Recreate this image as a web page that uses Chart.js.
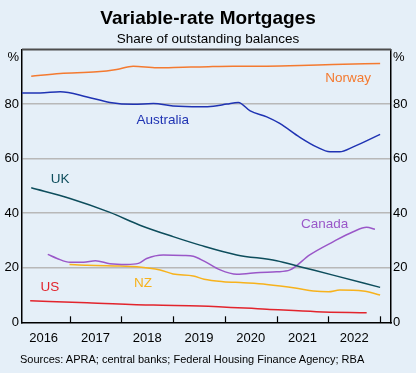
<!DOCTYPE html>
<html>
<head>
<meta charset="utf-8">
<script src="https://cdn.jsdelivr.net/npm/chart.js@4.4.1/dist/chart.umd.min.js"></script>
<style>
  html, body { margin: 0; padding: 0; background: #e5eff8; }
  #wrap { position: relative; width: 416px; height: 373px; background: #e5eff8; font-family: "Liberation Sans", Arial, sans-serif; }
  #title { position: absolute; left: 0; width: 416px; top: 7px; text-align: center; font-weight: bold; font-size: 19px; color: #000; }
  #sub { position: absolute; left: 0; width: 416px; top: 31px; text-align: center; font-size: 13.5px; color: #000; }
  #src { position: absolute; left: 20px; top: 353px; font-size: 11px; color: #000; }
  canvas { position: absolute; left: 0; top: 0; }
</style>
</head>
<body>
<div id="wrap">
  <canvas id="c" width="416" height="373"></canvas>
  <div id="title">Variable-rate Mortgages</div>
  <div id="sub">Share of outstanding balances</div>
  <div id="src">Sources: APRA; central banks; Federal Housing Finance Agency; RBA</div>
</div>
<script>
// Data (x in decimal years, y in per cent)
const norwayX = [2016.26, 2016.82, 2017.53, 2017.91, 2018.23, 2018.69, 2019.2, 2019.52, 2020.16, 2020.81, 2021.45, 2022.09, 2023.0];
const norwayY = [90.2, 91.2, 91.8, 92.7, 93.9, 93.3, 93.5, 93.6, 93.9, 93.9, 94.1, 94.5, 94.9];

const australiaX = [2016.08, 2016.43, 2016.82, 2017.34, 2017.78, 2018.23, 2018.62, 2019.0, 2019.52, 2019.78, 2020.04, 2020.26, 2020.49, 2020.81, 2021.06, 2021.45, 2021.77, 2022.03, 2022.22, 2022.48, 2023.0];
const australiaY = [84.1, 84.1, 84.5, 82.6, 80.6, 79.9, 80.2, 79.3, 79.0, 79.2, 80.0, 80.6, 77.5, 75.3, 72.9, 67.8, 64.3, 62.5, 62.5, 64.3, 68.9];

const ukX = [2016.26, 2017.01, 2017.78, 2018.36, 2019.0, 2019.52, 2020.23, 2021.0, 2021.45, 2022.09, 2023.0];
const ukY = [49.3, 45.4, 40.3, 35.6, 31.4, 28.3, 24.7, 22.6, 20.4, 17.3, 12.8];

const canadaX = [2016.58, 2016.76, 2017.01, 2017.27, 2017.5, 2017.78, 2018.1, 2018.33, 2018.49, 2018.81, 2019.2, 2019.39, 2019.6, 2019.91, 2020.23, 2020.68, 2021.0, 2021.26, 2021.64, 2022.09, 2022.48, 2022.74, 2022.9];
const canadaY = [24.9, 23.4, 22.0, 22.0, 22.6, 21.5, 21.2, 21.6, 23.4, 24.7, 24.5, 24.2, 22.4, 19.2, 17.6, 18.3, 18.5, 19.2, 24.7, 29.5, 33.2, 34.8, 34.1];

const nzX = [2017.0, 2017.34, 2017.98, 2018.3, 2018.75, 2019.0, 2019.39, 2019.6, 2019.97, 2020.36, 2020.81, 2021.39, 2021.71, 2022.0, 2022.22, 2022.67, 2023.0];
const nzY = [21.2, 20.9, 20.6, 20.4, 19.2, 17.7, 17.0, 15.8, 14.9, 14.5, 13.9, 12.5, 11.5, 11.2, 11.8, 11.5, 10.0];

const usX = [2016.24, 2017.34, 2018.62, 2019.52, 2020.81, 2021.77, 2022.74];
const usY = [7.9, 7.2, 6.3, 6.0, 4.8, 3.9, 3.5];

const yTicks = [0, 20, 40, 60, 80];
const unitTickValue = 97;
const xLabelYears = [2016, 2017, 2018, 2019, 2020, 2021, 2022];
const xBoundaryYears = [2017, 2018, 2019, 2020, 2021, 2022, 2023];

const seriesLabels = [
  { text: 'Norway', x: 2022.38, y: 89.6, color: '#f47a30' },
  { text: 'Australia', x: 2018.8, y: 74.1, color: '#1f33b3' },
  { text: 'UK', x: 2016.82, y: 52.5, color: '#0d4d5c' },
  { text: 'Canada', x: 2021.93, y: 35.9, color: '#9a57c8' },
  { text: 'NZ', x: 2018.42, y: 14.4, color: '#f7b21c' },
  { text: 'US', x: 2016.62, y: 12.8, color: '#e2242c' }
];

function pts(xs, ys) { return xs.map((x, i) => ({ x: x, y: ys[i] })); }

function ds(label, xs, ys, color) {
  return { label: label, data: pts(xs, ys), borderColor: color, borderWidth: 1.5,
           pointRadius: 0, tension: 0.35, cubicInterpolationMode: 'monotone', fill: false };
}

const FONT = '"Liberation Sans", Arial, sans-serif';

const decor = {
  id: 'decor',
  afterDatasetsDraw(chart) {
    const ctx = chart.ctx, a = chart.chartArea, xs = chart.scales.x, ys = chart.scales.y;
    ctx.save();
    ctx.strokeStyle = '#4d4d4d'; ctx.lineWidth = 2;
    ctx.beginPath(); ctx.moveTo(a.left, a.top); ctx.lineTo(a.right, a.top); ctx.stroke();
    ctx.strokeStyle = '#000'; ctx.lineWidth = 1.2;
    xBoundaryYears.forEach(y => {
      const px = Math.round(xs.getPixelForValue(y)) + 0.5;
      ctx.beginPath(); ctx.moveTo(px, a.bottom); ctx.lineTo(px, a.bottom - 6); ctx.stroke();
    });
    ctx.font = '13.5px ' + FONT; ctx.textAlign = 'center'; ctx.textBaseline = 'middle';
    seriesLabels.forEach(l => {
      ctx.fillStyle = l.color;
      ctx.fillText(l.text, xs.getPixelForValue(l.x), ys.getPixelForValue(l.y));
    });
    ctx.restore();
  }
};

function yAxis(pos, w, pad) {
  return {
    type: 'linear', position: pos, min: 0, max: 100,
    afterBuildTicks(s) { s.ticks = yTicks.concat([unitTickValue]).map(v => ({ value: v })); },
    afterFit(s) { s.width = w; },
    grid: {
      drawOnChartArea: pos === 'left', drawTicks: false,
      color: c => (c.tick && (c.tick.value === 0 || c.tick.value === unitTickValue)) ? 'rgba(0,0,0,0)' : '#b8b8b8',
      lineWidth: 1.5
    },
    border: { display: true, color: '#000', width: 1.5 },
    ticks: {
      padding: pad, color: '#000', font: { family: FONT, size: 13 },
      callback: v => v === unitTickValue ? '%' : String(v)
    }
  };
}

new Chart(document.getElementById('c'), {
  type: 'line',
  data: {
    datasets: [
      ds('Norway', norwayX, norwayY, '#f47a30'),
      ds('Australia', australiaX, australiaY, '#1f33b3'),
      ds('UK', ukX, ukY, '#0d4d5c'),
      ds('Canada', canadaX, canadaY, '#9a57c8'),
      ds('NZ', nzX, nzY, '#f7b21c'),
      ds('US', usX, usY, '#e2242c')
    ]
  },
  options: {
    responsive: false, animation: false,
    layout: { padding: { top: 49.5, bottom: 22.7, left: 0, right: 0 } },
    plugins: { legend: { display: false }, tooltip: { enabled: false }, title: { display: false } },
    scales: {
      x: {
        type: 'linear', position: 'bottom', min: 2016.082, max: 2023.21,
        afterBuildTicks(s) { s.ticks = xLabelYears.map(y => ({ value: y + 0.5 })); },
        afterFit(s) { s.height = 28; },
        grid: { display: false },
        border: { display: true, color: '#000', width: 1.5 },
        ticks: { padding: 0, color: '#000', font: { family: FONT, size: 13 },
                 maxRotation: 0, autoSkip: false,
                 callback: v => String(Math.floor(v)) }
      },
      y: yAxis('left', 22, 3),
      y2: yAxis('right', 25, 2)
    }
  },
  plugins: [decor]
});
</script>
</body>
</html>
